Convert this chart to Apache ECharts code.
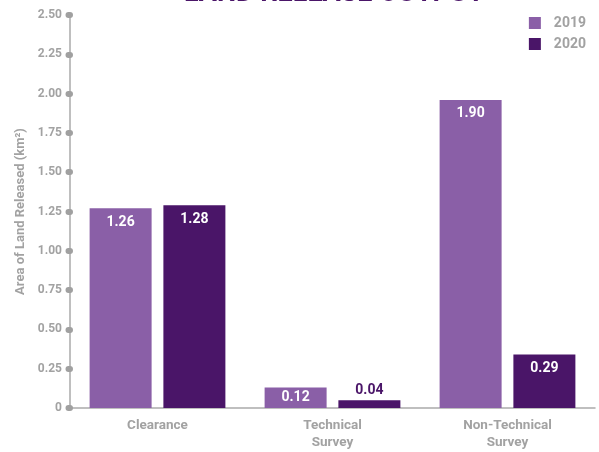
<!DOCTYPE html>
<html>
<head>
<meta charset="utf-8">
<script src="https://cdn.jsdelivr.net/npm/echarts@6/dist/echarts.min.js"></script>
<style>
  html, body { margin: 0; padding: 0; background: #fff; }
  #chart { width: 599px; height: 452px; }
</style>
</head>
<body>
<div id="chart"></div>
<script>
// data
const categories = ['Clearance', 'Technical\nSurvey', 'Non-Technical\nSurvey'];
const years = ['2019', '2020'];
const values2019 = [1.27, 0.13, 1.96];
const values2020 = [1.29, 0.05, 0.34];
// printed labels (as shown on the bars)
const labels2019 = ['1.26', '0.12', '1.90'];
const labels2020 = ['1.28', '0.04', '0.29'];

const color2019 = '#8a5fa7';
const color2020 = '#4a1568';
const grey = '#a2a2a2';
const font = 'Roboto, "DejaVu Sans", sans-serif';

const chart = echarts.init(document.getElementById('chart'));

function buildData(values, labels) {
  return values.map(function (v, i) {
    let lbl = {position: 'insideTop', distance: 7, color: '#fff'};
    if (v < 0.1) lbl = {position: 'top', distance: 3, color: color2020};
    else if (v < 0.2) lbl = {position: 'inside', color: '#fff'};
    lbl.formatter = labels[i];
    return {value: v, label: lbl};
  });
}

chart.setOption({
  animation: false,
  textStyle: {fontFamily: font},
  title: {
    text: 'LAND RELEASE OUTPUT',
    left: 184,
    top: -19,
    padding: 0,
    textStyle: {color: color2020, fontSize: 27, fontWeight: 'bold', fontFamily: font}
  },
  legend: {
    data: years,
    orient: 'vertical',
    right: 8,
    top: 11,
    icon: 'rect',
    itemWidth: 12,
    itemHeight: 12,
    itemGap: 7,
    textStyle: {color: grey, fontSize: 14, fontWeight: 'bold', padding: [0, 0, 0, 8]}
  },
  grid: {left: 70, right: 4, top: 15, bottom: 44},
  xAxis: {
    type: 'category',
    data: categories,
    axisLine: {lineStyle: {color: '#aaa', width: 1.5}},
    axisTick: {show: false},
    axisLabel: {color: grey, fontSize: 13.5, fontWeight: 'bold', lineHeight: 17, margin: 9}
  },
  yAxis: {
    type: 'value',
    min: 0,
    max: 2.5,
    interval: 0.25,
    name: 'Area of Land Released (km²)',
    nameLocation: 'middle',
    nameGap: 42,
    nameTextStyle: {color: grey, fontSize: 13, fontWeight: 'bold'},
    axisLine: {show: true, lineStyle: {color: '#aaa', width: 1.5}},
    axisTick: {show: true, length: 1.5, lineStyle: {color: '#a0a0a0', width: 6, cap: 'round'}},
    splitLine: {show: false},
    axisLabel: {
      color: grey, fontSize: 12, fontWeight: 'bold', margin: 8,
      formatter: function (v) { return v === 0 ? '0' : v.toFixed(2); }
    }
  },
  series: [
    {
      name: years[0],
      type: 'bar',
      barWidth: 62,
      barGap: '19%',
      itemStyle: {color: color2019},
      label: {show: true, fontSize: 14, fontWeight: 'bold'},
      data: buildData(values2019, labels2019)
    },
    {
      name: years[1],
      type: 'bar',
      barWidth: 62,
      itemStyle: {color: color2020},
      label: {show: true, fontSize: 14, fontWeight: 'bold'},
      data: buildData(values2020, labels2020)
    }
  ]
});
</script>
</body>
</html>
